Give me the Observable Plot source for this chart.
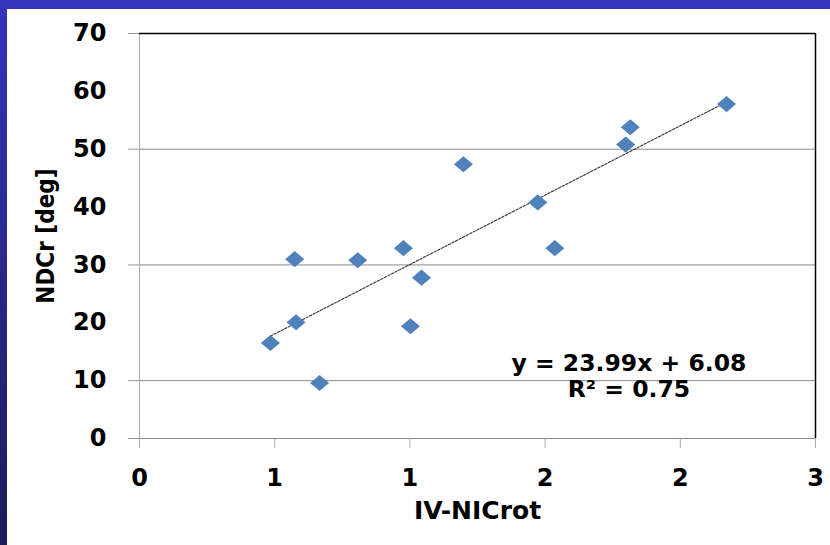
<!DOCTYPE html>
<html>
<head>
<meta charset="utf-8">
<script src="https://cdn.jsdelivr.net/npm/d3@7"></script>
<script src="https://cdn.jsdelivr.net/npm/@observablehq/plot@0.6"></script>
<style>
  html, body { margin: 0; padding: 0; background: #fff; }
  #wrap { position: relative; width: 830px; height: 545px; overflow: hidden;
          background: linear-gradient(to bottom, #3434bc, #1b1b58); }
  #paper { position: absolute; left: 7px; top: 9px; right: 0; bottom: 0; background: #fff; }
  #chart { position: absolute; left: 0; top: 0; }
</style>
</head>
<body>
<div id="wrap"><div id="paper"></div><div id="chart"></div></div>
<script>
// ---- data ----
const xValues = [0.484, 0.579, 0.574, 0.666, 0.807, 0.976, 1.002, 1.043, 1.198, 1.473, 1.536, 1.798, 1.815, 2.171];
const yValues = [16.5, 20.1, 31.0, 9.6, 30.8, 32.9, 19.4, 27.8, 47.4, 40.8, 32.9, 50.8, 53.8, 57.8];
const xTicks = [0, 0.5, 1, 1.5, 2, 2.5];
const yTicks = [0, 10, 20, 30, 40, 50, 60, 70];
const yTickMarks = [0, 10, 30, 50, 70];
const yGrid = [10, 30, 50];
const slope = 23.99;
const intercept = 6.08;
const r2 = 0.75;
const xTitle = "IV-NICrot";
const yTitle = "NDCr [deg]";

const points = xValues.map((x, i) => ({x, y: yValues[i]}));
const [xMin, xMax] = d3.extent(xValues);
const trend = [xMin, xMax].map(x => ({x, y: slope * x + intercept}));
const annotations = [
  {x: 1.81, y: 12.9, text: `y = ${slope.toFixed(2)}x + ${intercept.toFixed(2)}`},
  {x: 1.81, y: 8.47, text: `R² = ${r2.toFixed(2)}`}
];

const diamond = {
  draw(ctx, size) {
    const r = Math.sqrt(size / Math.PI);
    const h = r * 0.85;
    ctx.moveTo(0, -h);
    ctx.lineTo(r, 0);
    ctx.lineTo(0, h);
    ctx.lineTo(-r, 0);
    ctx.closePath();
  }
};

const FONT = "'DejaVu Sans', sans-serif";

const chart = Plot.plot({
  width: 830,
  height: 545,
  marginLeft: 139,
  marginTop: 33,
  marginRight: 15,
  marginBottom: 107,
  style: {background: "transparent", fontFamily: FONT, fontWeight: "bold", color: "#000", overflow: "visible"},
  x: {domain: [0, 2.5]},
  y: {domain: [0, 70]},
  marks: [
    Plot.ruleY(yGrid, {stroke: "#888", strokeWidth: 1}),
    Plot.ruleX([0], {stroke: "#aaa", strokeWidth: 1}),
    Plot.ruleY([0], {stroke: "#888", strokeWidth: 1}),
    Plot.ruleY([70], {stroke: "#000", strokeWidth: 1.5}),
    Plot.ruleX([2.5], {stroke: "#000", strokeWidth: 1.5}),
    Plot.axisX({ticks: xTicks, tickFormat: d => String(Math.round(d)), tickSize: 10, tickPadding: 20,
                stroke: "#aaa", fontSize: 24, fontWeight: "bold", fontFamily: FONT, label: null}),
    Plot.axisY({ticks: yTickMarks, tickFormat: () => "", tickSize: 11, stroke: "#999", label: null}),
    Plot.axisY({ticks: yTicks, tickSize: 0, tickPadding: 33, fontSize: 24, fontWeight: "bold", fontFamily: FONT, label: null}),
    Plot.line(trend, {x: "x", y: "y", stroke: "#333", strokeWidth: 1.1, strokeDasharray: "2.5,1.5"}),
    Plot.dot(points, {x: "x", y: "y", r: 9.5, symbol: diamond, fill: "#4f81bd", stroke: "none"}),
    Plot.text(annotations, {x: "x", y: "y", text: "text", fontSize: 23.5, fontWeight: "bold", fontFamily: FONT, fill: "#000"}),
    Plot.text([xTitle], {text: d => d, frameAnchor: "bottom", dy: 80, fontSize: 25, fontWeight: "bold", fontFamily: FONT, fill: "#000"}),
    Plot.text([yTitle], {text: d => d, frameAnchor: "left", textAnchor: "middle", dx: -93, rotate: -90, fontSize: 24,
                         fontWeight: "bold", fontFamily: "'DejaVu Sans Condensed', 'DejaVu Sans', sans-serif", fill: "#000"})
  ]
});
document.getElementById("chart").appendChild(chart);
</script>
</body>
</html>
